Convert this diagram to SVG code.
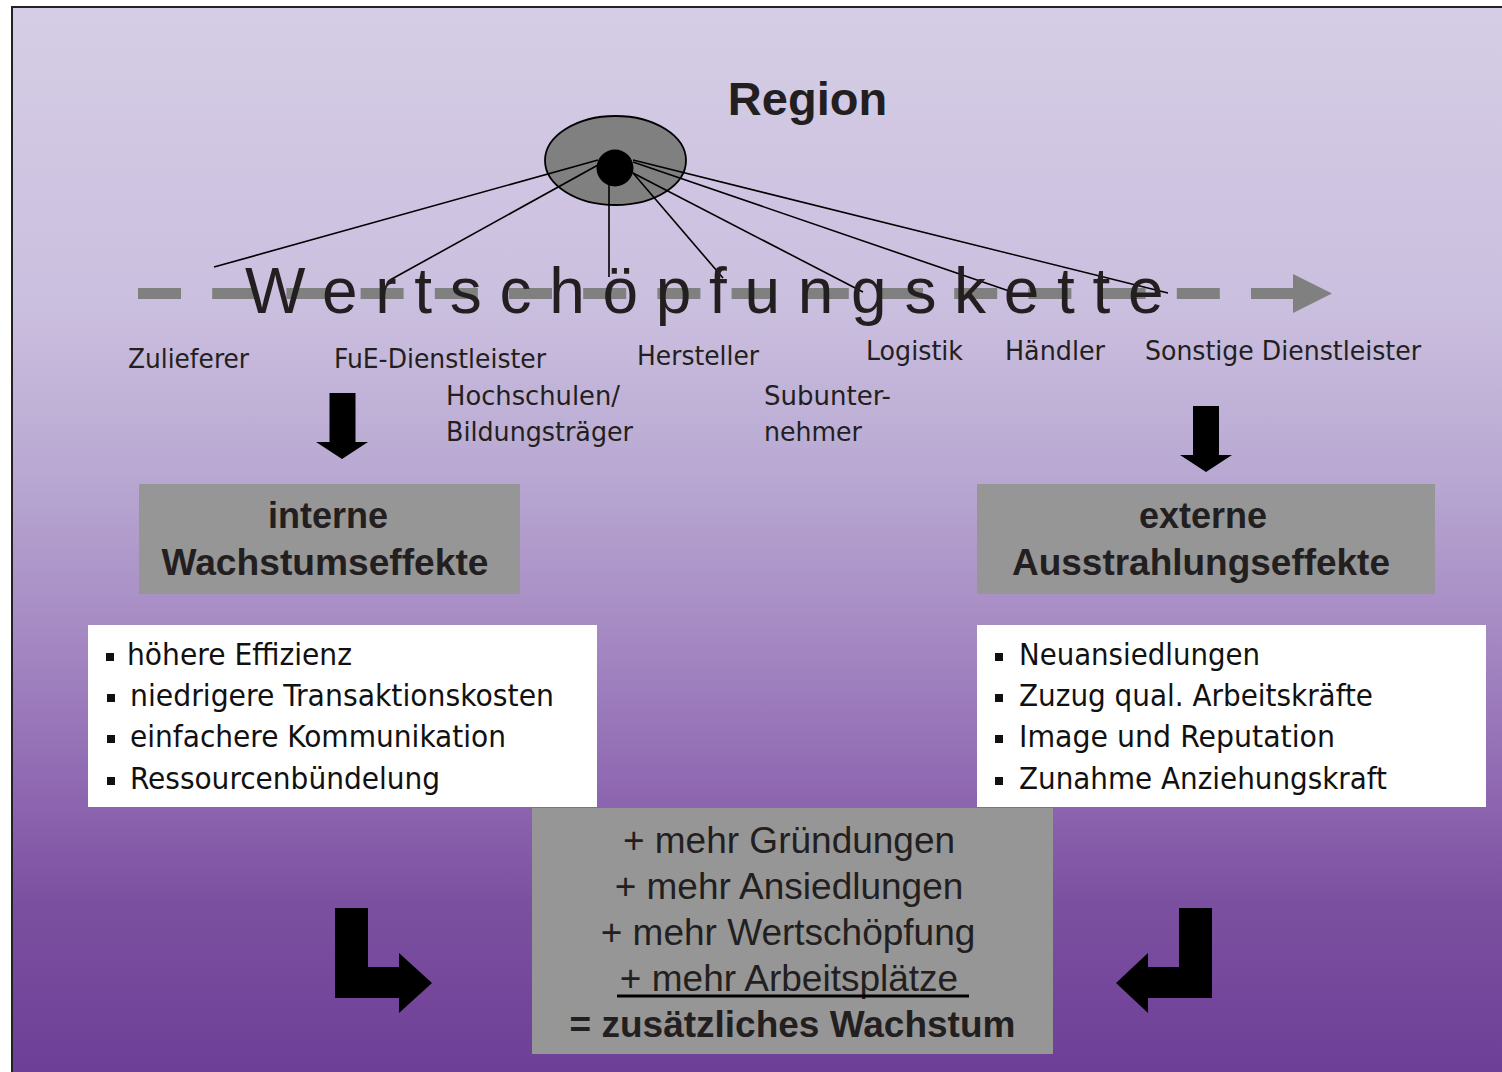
<svg xmlns="http://www.w3.org/2000/svg" width="1502" height="1072" viewBox="0 0 1502 1072">
<defs>
<linearGradient id="bg" x1="0" y1="7" x2="0" y2="1072" gradientUnits="userSpaceOnUse">
<stop offset="0" stop-color="#d5cde5"/>
<stop offset="0.28" stop-color="#cbbfdf"/>
<stop offset="0.44" stop-color="#b8a8d2"/>
<stop offset="0.6" stop-color="#a487c2"/>
<stop offset="0.75" stop-color="#8c64af"/>
<stop offset="0.84" stop-color="#7c50a0"/>
<stop offset="1" stop-color="#6d3f97"/>
</linearGradient>
<style>
.lbl{font-family:"DejaVu Sans Condensed","DejaVu Sans","Liberation Sans",sans-serif;font-size:26.5px;fill:#231f20}
.lst{font-family:"DejaVu Sans Condensed","DejaVu Sans","Liberation Sans",sans-serif;font-size:29.5px;fill:#111}
.hd{font-family:"Liberation Sans",Arial,sans-serif;font-weight:bold;font-size:36px;fill:#231f20;text-anchor:middle}
.res{font-family:"Liberation Sans",Arial,sans-serif;font-size:37px;fill:#231f20;text-anchor:middle}
.gbox{fill:#969696}
.wbox{fill:#ffffff}
.blt{fill:#111}
.ln{stroke:#000;stroke-width:1.6;fill:none}
.blk{fill:#000}
</style>
</defs>
<rect x="0" y="0" width="1502" height="1072" fill="#ffffff"/>
<rect x="12" y="7" width="1500" height="1080" fill="url(#bg)" stroke="#222" stroke-width="2"/>

<g id="region">
<text x="807.5" y="115" font-family="Liberation Sans, Arial, sans-serif" font-weight="bold" font-size="47" fill="#231f20" text-anchor="middle">Region</text>
<ellipse cx="615.5" cy="160.5" rx="70.5" ry="44.5" fill="#808080" stroke="#000" stroke-width="1.8"/>
<circle cx="615" cy="168" r="18.5" fill="#000"/>
</g>

<g id="connectors">
<line class="ln" x1="598" y1="160" x2="214" y2="267"/>
<line class="ln" x1="598" y1="165" x2="390" y2="280"/>
<line class="ln" x1="609" y1="183" x2="609" y2="277"/>
<line class="ln" x1="633" y1="173" x2="723" y2="278"/>
<line class="ln" x1="633" y1="173" x2="863" y2="292"/>
<line class="ln" x1="633" y1="162" x2="1012" y2="292"/>
<line class="ln" x1="633" y1="160" x2="1168" y2="293"/>
<g id="chain-arrow">
<line x1="138" y1="293.5" x2="1293" y2="293.5" stroke="#808080" stroke-width="11" stroke-dasharray="43 31.2"/>
<polygon points="1293,274 1332,293.5 1293,313" fill="#808080"/>
</g>
<polygon class="blk" points="329.5,393 355.5,393 355.5,442 368,442 342,459 316,442 329.5,442"/>
<polygon class="blk" points="1193,406 1219,406 1219,455 1232,455 1206,472 1180,455 1193,455"/>
<polygon class="blk" points="335,908 368,908 368,967 399,967 399,953 432,983 399,1013 399,998 335,998"/>
<polygon class="blk" points="1212,908 1179,908 1179,967 1148,967 1148,953 1116,983 1148,1013 1148,998 1212,998"/>
</g>

<g id="chain-title">
<text x="245" y="313" font-family="Liberation Sans, Arial, sans-serif" font-size="64" letter-spacing="17.7" fill="#231f20">Wertschöpfungskette</text>
</g>

<g id="actors">
<text class="lbl" x="128" y="368" textLength="121" lengthAdjust="spacingAndGlyphs">Zulieferer</text>
<text class="lbl" x="334" y="368" textLength="212" lengthAdjust="spacingAndGlyphs">FuE-Dienstleister</text>
<text class="lbl" x="446" y="405" textLength="174" lengthAdjust="spacingAndGlyphs">Hochschulen/</text>
<text class="lbl" x="446" y="441" textLength="187" lengthAdjust="spacingAndGlyphs">Bildungsträger</text>
<text class="lbl" x="637" y="365" textLength="122" lengthAdjust="spacingAndGlyphs">Hersteller</text>
<text class="lbl" x="764" y="405" textLength="127" lengthAdjust="spacingAndGlyphs">Subunter-</text>
<text class="lbl" x="764" y="441" textLength="98" lengthAdjust="spacingAndGlyphs">nehmer</text>
<text class="lbl" x="866" y="360" textLength="97" lengthAdjust="spacingAndGlyphs">Logistik</text>
<text class="lbl" x="1005" y="360" textLength="100" lengthAdjust="spacingAndGlyphs">Händler</text>
<text class="lbl" x="1145" y="360" textLength="276" lengthAdjust="spacingAndGlyphs">Sonstige Dienstleister</text>
</g>

<g id="interne">
<rect class="gbox" x="139" y="484" width="381" height="110"/>
<text class="hd" x="328" y="528">interne</text>
<text class="hd" x="325" y="575" textLength="327" lengthAdjust="spacingAndGlyphs">Wachstumseffekte</text>
</g>

<g id="externe">
<rect class="gbox" x="977" y="484" width="458" height="110"/>
<text class="hd" x="1203" y="528">externe</text>
<text class="hd" x="1201" y="575" textLength="378" lengthAdjust="spacingAndGlyphs">Ausstrahlungseffekte</text>
</g>

<g id="interne-list">
<rect class="wbox" x="88" y="625" width="509" height="182"/>
<rect class="blt" x="106" y="653" width="8" height="8"/>
<rect class="blt" x="107" y="694" width="8" height="8"/>
<rect class="blt" x="107" y="735" width="8" height="8"/>
<rect class="blt" x="107" y="777" width="8" height="8"/>
<text class="lst" x="127" y="665" textLength="225" lengthAdjust="spacingAndGlyphs">höhere Effizienz</text>
<text class="lst" x="130" y="706" textLength="424" lengthAdjust="spacingAndGlyphs">niedrigere Transaktionskosten</text>
<text class="lst" x="130" y="747" textLength="376" lengthAdjust="spacingAndGlyphs">einfachere Kommunikation</text>
<text class="lst" x="130" y="789" textLength="310" lengthAdjust="spacingAndGlyphs">Ressourcenbündelung</text>
</g>

<g id="externe-list">
<rect class="wbox" x="977" y="625" width="509" height="182"/>
<rect class="blt" x="995" y="653" width="8" height="8"/>
<rect class="blt" x="995" y="694" width="8" height="8"/>
<rect class="blt" x="995" y="735" width="8" height="8"/>
<rect class="blt" x="995" y="777" width="8" height="8"/>
<text class="lst" x="1019" y="665" textLength="241" lengthAdjust="spacingAndGlyphs">Neuansiedlungen</text>
<text class="lst" x="1019" y="706" textLength="354" lengthAdjust="spacingAndGlyphs">Zuzug qual. Arbeitskräfte</text>
<text class="lst" x="1019" y="747" textLength="316" lengthAdjust="spacingAndGlyphs">Image und Reputation</text>
<text class="lst" x="1019" y="789" textLength="368" lengthAdjust="spacingAndGlyphs">Zunahme Anziehungskraft</text>
</g>

<g id="ergebnis">
<rect class="gbox" x="532" y="808" width="521" height="246"/>
<text class="res" x="789" y="853">+ mehr Gründungen</text>
<text class="res" x="789" y="899">+ mehr Ansiedlungen</text>
<text class="res" x="788" y="945">+ mehr Wertschöpfung</text>
<text class="res" x="789" y="991">+ mehr Arbeitsplätze</text>
<line x1="617" y1="996" x2="969" y2="996" stroke="#000" stroke-width="3"/>
<text class="res" x="792.5" y="1037" font-weight="bold">= zusätzliches Wachstum</text>
</g>
</svg>
